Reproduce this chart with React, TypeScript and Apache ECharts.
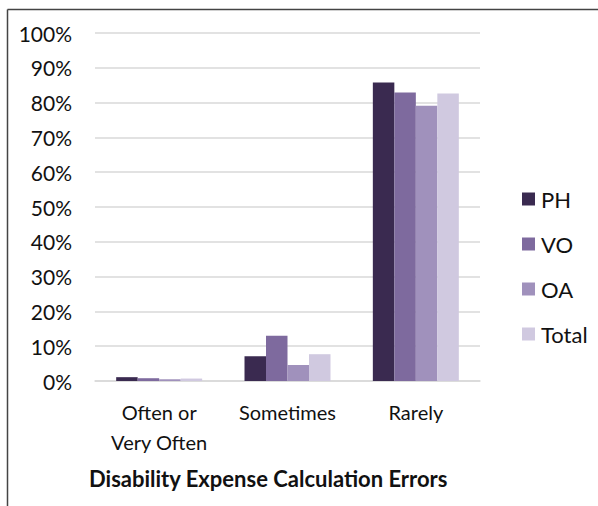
import React, { useEffect, useRef } from "react";
import * as echarts from "echarts";

const categories = ["Often or\nVery Often", "Sometimes", "Rarely"];
const seriesNames = ["PH", "VO", "OA", "Total"];
const phValues = [1.1, 7.1, 85.8];
const voValues = [0.8, 13.0, 82.9];
const oaValues = [0.5, 4.6, 79.1];
const totalValues = [0.7, 7.7, 82.6];
const colors = ["#3a2a50", "#7e6a9e", "#a091bc", "#d0c9e0"];
const yTicks = { min: 0, max: 100, interval: 10 };
const titleText = "Disability Expense Calculation Errors";

const FONT = "Lato, 'Noto Sans', sans-serif";

export default function App() {
  const ref = useRef<HTMLDivElement>(null);
  useEffect(() => {
    if (!ref.current) return;
    const chart = echarts.init(ref.current, null, { renderer: "svg" });
    const allValues = [phValues, voValues, oaValues, totalValues];
    chart.setOption({
      animation: false,
      backgroundColor: "#ffffff",
      textStyle: { fontFamily: FONT },
      title: {
        text: titleText,
        left: 89,
        top: 467,
        padding: 0,
        textStyle: { fontSize: 22, fontWeight: "bold", color: "#111", fontFamily: FONT },
      },
      legend: {
        orient: "vertical",
        left: 522,
        top: 188,
        itemWidth: 13,
        itemHeight: 13,
        itemGap: 23,
        padding: 0,
        icon: "rect",
        textStyle: { fontSize: 22, lineHeight: 22, color: "#111", fontFamily: FONT, padding: [0, 0, 0, 1] },
        data: seriesNames,
      },
      grid: { left: 95, right: 118, top: 33, bottom: 125, containLabel: false },
      xAxis: {
        type: "category",
        data: categories,
        axisLine: { show: true, lineStyle: { color: "#d9d9d9", width: 1.5 } },
        axisTick: { show: false },
        axisLabel: {
          fontSize: 20,
          color: "#111",
          lineHeight: 30,
          margin: 16,
          fontFamily: FONT,
          interval: 0,
        },
      },
      yAxis: {
        type: "value",
        min: yTicks.min,
        max: yTicks.max,
        interval: yTicks.interval,
        axisLine: { show: false },
        axisTick: { show: false },
        splitLine: { lineStyle: { color: "#d9d9d9", width: 1.5 } },
        axisLabel: {
          formatter: "{value}%",
          fontSize: 21,
          color: "#111",
          margin: 23,
          fontFamily: FONT,
        },
      },
      graphic: [
        { type: "line", shape: { x1: 7.5, y1: 9.5, x2: 598, y2: 9.5 }, style: { stroke: "#444", lineWidth: 1.5 } },
        { type: "line", shape: { x1: 7.5, y1: 9.5, x2: 7.5, y2: 506 }, style: { stroke: "#444", lineWidth: 1.5 } },
      ],
      series: seriesNames.map((name, i) => ({
        name,
        type: "bar",
        data: allValues[i],
        barGap: "0%",
        barCategoryGap: "33%",
        itemStyle: { color: colors[i] },
      })),
    });
    return () => chart.dispose();
  }, []);
  return (
    <div
      ref={ref}
      style={{ position: "absolute", left: 0, top: 0, width: 598, height: 506 }}
    />
  );
}
